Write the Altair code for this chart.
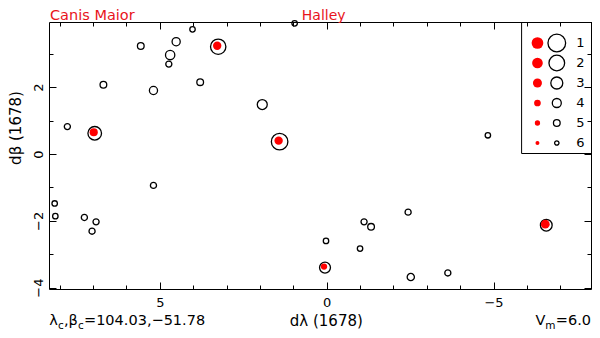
import altair as alt
import pandas as pd

# ---- data ----
dlam = [7.77, 6.95, 6.69, 5.57, 5.19, 4.69, 4.73, 4.51, 4.02, 3.79, 3.25, 1.93, 1.41, 0.96, -4.83,
        5.19, 8.15, 8.13, 7.26, 6.91, 7.03, 0.02, 0.05, -1.00, -1.12, -1.33, -2.44, -2.52, -3.63, -6.58]
dbet = [0.82, 0.62, 2.07, 3.23, 1.90, 2.96, 2.69, 3.36, 3.73, 2.15, 3.21, 1.48, 0.37, 3.91, 0.56,
        -0.94, -1.48, -1.86, -1.90, -2.03, -2.31, -2.60, -3.40, -2.83, -2.03, -2.18, -1.74, -3.68, -3.56, -2.13]
mag = [5.3, 2.6, 5.0, 5.0, 4.4, 3.9, 5.3, 4.4, 5.6, 5.0, 2.1, 3.7, 1.6, 5.6, 5.6,
       5.3, 5.6, 5.6, 5.3, 5.3, 5.3, 5.6, 3.4, 5.6, 5.3, 5.0, 5.3, 4.8, 5.3, 3.1]

red_dlam = [6.95, 3.25, 1.41, 0.05, -6.58]
red_dbet = [0.62, 3.21, 0.37, -3.40, -2.13]
red_mag = [3.4, 3.3, 3.3, 4.3, 3.1]

legend_mags = [1, 2, 3, 4, 5, 6]
open_sizes = [313, 246, 144, 81, 45, 19.4]
red_sizes = [137, 114, 81, 45, 28, 16]

x_major = [5, 0, -5]
x_minor = list(range(-7, 9))
y_major = [-4, -2, 0, 2]
y_minor = list(range(-4, 4))

df = pd.DataFrame({"x": dlam, "y": dbet, "mag": mag})
df_red = pd.DataFrame({"x": red_dlam, "y": red_dbet, "mag": red_mag})

W, H = 542, 267
FONT = "DejaVu Sans"
RED_TXT = "#e8141c"
LEG_X = 472.1

x_scale = alt.Scale(domain=[8.32, -7.92], nice=False, zero=False)
y_scale = alt.Scale(domain=[-4.04, 3.95], nice=False, zero=False)


def tick_axis(orient, values, size, **kw):
    return alt.Axis(orient=orient, values=values, tickSize=size, offset=-size, domain=False,
                    grid=False, tickColor="black", tickWidth=1, **kw)


def leg(**kw):
    return alt.Legend(orient="none", legendX=LEG_X, legendY=0, values=legend_mags,
                      title=" ", titleFontSize=9, titlePadding=2, padding=0,
                      clipHeight=20, rowPadding=0, direction="vertical",
                      symbolType="circle", **kw)


# open circles + bottom/left major axes + legend of open circles
open_layer = alt.Chart(df).mark_point(shape="circle", filled=False, color="black",
                                      strokeWidth=1.3, opacity=1).encode(
    x=alt.X("x:Q", scale=x_scale,
            axis=tick_axis("bottom", x_major, 7, labels=True, labelPadding=7, labelFontSize=13,
                           labelColor="black", labelFlush=False, format="d",
                           title="dλ (1678)", titleFontSize=15, titleFontWeight="normal",
                           titleColor="black", titleX=276.8, titleY=43, titleAlign="center",
                           titleBaseline="alphabetic")),
    y=alt.Y("y:Q", scale=y_scale,
            axis=tick_axis("left", y_major, 7, labels=True, labelAngle=270, labelAlign="center",
                           labelBaseline="alphabetic", labelPadding=7, labelFontSize=13,
                           labelColor="black", labelFlush=False, format="d", title=None)),
    size=alt.Size("mag:Q", scale=alt.Scale(domain=legend_mags, range=open_sizes),
                  legend=leg(symbolStrokeColor="black", symbolFillColor="transparent",
                             symbolStrokeWidth=1.3, symbolOpacity=1, symbolOffset=26.2,
                             labelExpr="''")),
)

# red dots + top/right major axes + legend with the magnitude labels
red_layer = alt.Chart(df_red).mark_circle(color="red", opacity=1, xOffset=-1, yOffset=-1).encode(
    x=alt.X("x:Q", scale=x_scale, axis=tick_axis("top", x_major, 7, labels=False, title=None)),
    y=alt.Y("y:Q", scale=y_scale, axis=tick_axis("right", y_major, 7, labels=False, title=None)),
    size=alt.Size("mag:Q", scale=alt.Scale(domain=legend_mags, range=red_sizes),
                  legend=leg(symbolFillColor="red", symbolStrokeColor="red",
                             symbolStrokeWidth=0, symbolOpacity=1, symbolOffset=9.85,
                             labelOffset=32.4, labelFontSize=13, labelColor="black")),
)

# minor ticks (bottom/left) + the frame of the legend box
minor_bl = alt.Chart(df).mark_point(opacity=0).encode(
    x=alt.X("x:Q", scale=x_scale, axis=tick_axis("bottom", x_minor, 4, labels=False, title=None)),
    y=alt.Y("y:Q", scale=y_scale, axis=tick_axis("left", y_minor, 4, labels=False, title=None)),
    size=alt.Size("mag:Q", scale=alt.Scale(domain=[1, 6], range=[169, 169]),
                  legend=leg(strokeColor="black", symbolOpacity=0,
                             symbolStrokeWidth=0, symbolOffset=56.9, labelOffset=0,
                             labelExpr="''")),
)
minor_tr = alt.Chart(df).mark_point(opacity=0).encode(
    x=alt.X("x:Q", scale=x_scale, axis=tick_axis("top", x_minor, 4, labels=False, title=None)),
    y=alt.Y("y:Q", scale=y_scale, axis=tick_axis("right", y_minor, 4, labels=False, title=None)),
)

one = pd.DataFrame({"k": [0]})


def txt(text, x, y, size, color="black", align="left", angle=0, baseline="alphabetic"):
    return alt.Chart(one).mark_text(text=text, fontSize=size, color=color, align=align,
                                    baseline=baseline, font=FONT, angle=angle).encode(
        x=alt.value(x), y=alt.value(y))


texts = [
    txt("Canis Maior", 1, -1.8, 14.5, RED_TXT),
    txt("Halley", 274.7, -1.8, 14, RED_TXT, "center"),
    txt("dβ (1678)", -33, 106, 15, align="center", angle=270, baseline="middle"),
    txt("λ", 0.3, 303, 14.5),
    txt("c", 9, 306.5, 10.5),
    txt(",β", 15, 303, 14.5),
    txt("c", 29, 306.5, 10.5),
    txt("=104.03,−51.78", 35, 303, 14.5),
    txt("=6.0", 542, 303, 14.5, align="right"),
    txt("m", 506.6, 306.5, 10.5, align="right"),
    txt("V", 496.4, 303, 14.5, align="right"),
]

chart = alt.layer(open_layer, red_layer, minor_bl, minor_tr, *texts).resolve_scale(
    size="independent"
).resolve_axis(
    x="independent", y="independent"
).resolve_legend(
    size="independent"
).properties(
    width=W, height=H,
    autosize=alt.AutoSizeParams(type="none"),
    padding={"left": 41, "top": 14, "right": 1, "bottom": 41},
).configure(
    font=FONT
).configure_view(
    stroke="black", strokeWidth=1
)

chart.save("out.html", embed_options={"renderer": "svg", "actions": False})
